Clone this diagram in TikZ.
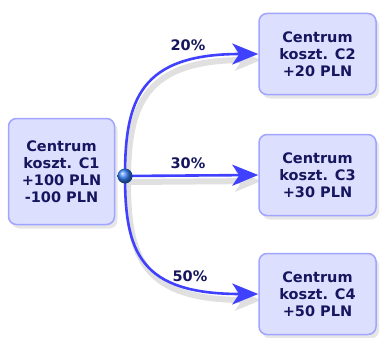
\documentclass[tikz,border=0pt]{standalone}
\usepackage{fontspec}
\setmainfont{DejaVu Sans}
\usetikzlibrary{arrows.meta,shadows,backgrounds}

\definecolor{boxfill}{RGB}{221,223,255}
\definecolor{boxline}{RGB}{160,165,255}
\definecolor{ink}{RGB}{22,22,95}
\definecolor{flow}{RGB}{64,64,255}
\definecolor{knob}{RGB}{50,125,245}

\begin{document}
\begin{tikzpicture}[x=1pt, y=-1pt,
    centre/.style={draw=boxline, line width=1.5pt, fill=boxfill, rounded corners=8pt,
        minimum width=117pt, minimum height=81pt, align=center, text=ink,
        font=\bfseries\fontsize{14.5}{17}\selectfont,
        drop shadow={shadow xshift=3pt, shadow yshift=-4pt, opacity=0.2}},
    share/.style={text=ink, font=\bfseries\fontsize{14.5}{15}\selectfont},
    flowline/.style={draw=flow, line width=2.6pt,
        -{Stealth[length=26pt, width=21pt, inset=7pt]},
        preaction={draw=black!12, line width=6pt, transform canvas={shift={(3pt,-6pt)}}}}]
        \useasboundingbox (0,0) rectangle (382,337);
        \pgfmathsetmacro{\rightx}{317.5}

        \node[centre, minimum width=106pt, minimum height=106pt] (c1) at (61.5, 171.5)
            {Centrum\\koszt. C1\\+100 PLN\\-100 PLN};

        \node[centre] (c2) at (\rightx, 54) {Centrum\\koszt. C2\\+20 PLN};
        \node[centre] (c3) at (\rightx, 175) {Centrum\\koszt. C3\\+30 PLN};
        \node[centre] (c4) at (\rightx, 294) {Centrum\\koszt. C4\\+50 PLN};

        \node[circle, shading=ball, ball color=knob, minimum size=15pt, inner sep=0pt] (hub) at (125, 176) {};

        \begin{scope}[on background layer]
            \draw[flowline] (hub.center) .. controls (125, 100) and (140, 54) .. (c2.west);
            \draw[flowline] (hub.center) -- (c3.west);
            \draw[flowline] (hub.center) .. controls (125, 252) and (140, 294) .. (c4.west);
        \end{scope}

        \node[share] (p20) at (188, 45) {20\%};
        \node[share] (p30) at (188, 163) {30\%};
        \node[share] (p50) at (190, 276) {50\%};
    \end{tikzpicture}
\end{document}
